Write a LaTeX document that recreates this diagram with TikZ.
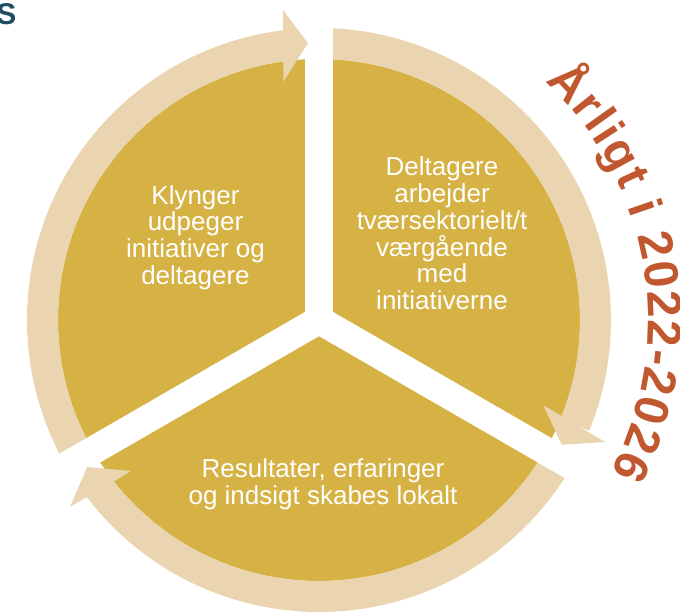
\documentclass[tikz,border=0pt]{standalone}
\usepackage{fontspec}
\setmainfont{Liberation Sans}
\usetikzlibrary{decorations.text}
\definecolor{goldfill}{HTML}{D6B244}
\definecolor{ringfill}{HTML}{EAD5B0}
\definecolor{arlcol}{HTML}{C0572F}
\definecolor{titlecol}{HTML}{1F4E64}
\tikzset{
  sector/.style={fill=goldfill},
  ringarc/.style={fill=ringfill},
  gapstrip/.style={fill=white},
  celltext/.style={align=center, text=white, inner sep=0pt, font=\fontsize{26}{26.8}\selectfont},
}
\begin{document}
\begin{tikzpicture}[x=1pt,y=1pt]
\useasboundingbox (0,0) rectangle (680,613);
\begin{scope}[shift={(319,293)}]
  % gold disk
  \fill[sector] (0,0) circle[radius=261];
  % ring shafts
  \fill[ringarc] (210:261) arc[start angle=210, end angle=97, radius=261] -- (97:292) arc[start angle=97, end angle=210, radius=292] -- cycle;
  \fill[ringarc] (90:261) arc[start angle=90, end angle=-22.3, radius=261] -- (-22.3:292) arc[start angle=-22.3, end angle=90, radius=292] -- cycle;
  \fill[ringarc] (-30:261) arc[start angle=-30, end angle=-142.7, radius=261] -- (-142.7:292) arc[start angle=-142.7, end angle=-30, radius=292] -- cycle;
  % white gaps
  \fill[gapstrip, rotate=90] (0,-14) rectangle (315,14);
  \fill[gapstrip, rotate=210] (0,-14) rectangle (315,14);
  \fill[gapstrip, rotate=330] (0,-14) rectangle (315,14);
  % arrow heads
  \fill[ringarc] (98.5:241) -- (96.6:312) -- (92.3:277) -- cycle;
  \fill[ringarc] (-20.8:240) -- (-23.1:311) -- (-27.2:273) -- cycle;
  \fill[ringarc] (-141.2:241) -- (-143.1:311.4) -- (-147.6:274.6) -- cycle;
  % curved text
  \path[decorate, decoration={text along path, text={|\fontsize{48}{48}\selectfont\bfseries\color{arlcol}|Årligt i 2022-2026}, text align={fit to path}}]
    (46.5:329) arc[start angle=46.5, end angle=-27.5, radius=329];
\end{scope}
\node[celltext] (klynger) at (195.5,375.5) {Klynger\\udpeger\\initiativer og\\deltagere};
\node[celltext] (deltagere) at (442,379.5) {Deltagere\\arbejder\\tværsektorielt/t\\værgående\\med\\initiativerne};
\node[celltext] (resultater) at (323,129) {Resultater, erfaringer\\og indsigt skabes lokalt};
\node[anchor=base east, inner sep=0pt, text=titlecol, font=\bfseries\fontsize{30}{30}\selectfont] (title) at (16.5,588) {S};
\end{tikzpicture}
\end{document}
